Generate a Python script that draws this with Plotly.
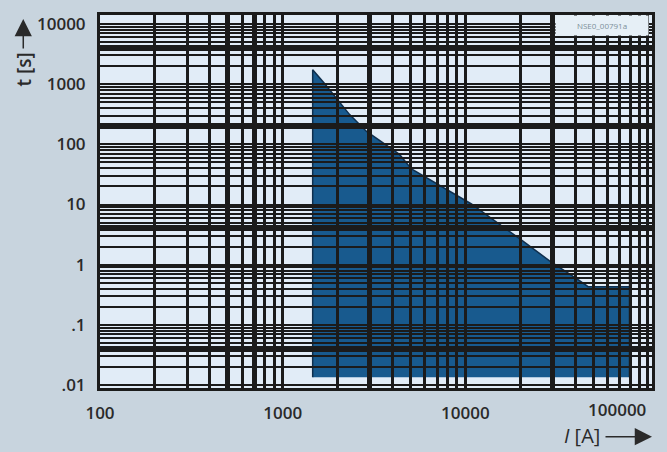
import math
import plotly.graph_objects as go

# ---- data (fuse time-current band) ----
current_A = [1460, 1460, 1700, 1880, 2320, 2880, 4360, 5070, 10800, 20500, 28800, 42000, 47000, 80000, 80000]
time_s = [0.0135, 1740, 1020, 690, 315, 164, 68, 39, 10.2, 2.5, 1.17, 0.55, 0.43, 0.43, 0.0135]

limit_I = [80000, 80000]
limit_t = [0.0135, 1.0]

x_decades = [100, 1000, 10000, 100000]
x_labels = ["100", "1000", "10000", "100000"]
y_decades = [0.01, 0.1, 1, 10, 100, 1000, 10000]
y_labels = [".01", ".1", "1", "10", "100", "1000", "10000"]

# grid lines that print heavier in the reference
heavy_x = [500, 700, 3000, 30000]
heavy_y = [4000, 200, 4, 0.04]

x_range = [2.0, 5.022]
y_range = [-2.05, 4.15]

# grid positions (1..9 per decade)
grid_x, text_x = [], []
for i, d in enumerate(x_decades[:-1]):
    for m in range(1, 10):
        grid_x.append(m * d)
        text_x.append(x_labels[i] if m == 1 else "")
grid_x.append(x_decades[-1]); text_x.append("")

grid_y, text_y = [], []
for i, d in enumerate(y_decades[:-1]):
    for m in range(1, 10):
        grid_y.append(round(m * d, 6))
        text_y.append(y_labels[i] if m == 1 else "")
grid_y.append(y_decades[-1]); text_y.append(y_labels[-1])

PAPER = "#c8d4de"
CELL = "#e1ecf7"
GRID = "#1b1b1b"
FILL = "#185a8e"
TXT = "#2a2a2a"
FONT = "Open Sans"

fig = go.Figure()

fig.add_trace(go.Scatter(
    x=current_A, y=time_s, mode="lines", fill="toself",
    fillcolor=FILL, line=dict(color="#0f2f4e", width=1.5),
    xaxis="x", yaxis="y", hoverinfo="skip", showlegend=False))

fig.add_trace(go.Scatter(
    x=limit_I, y=limit_t, mode="lines",
    line=dict(color=GRID, width=3),
    xaxis="x3", yaxis="y3", hoverinfo="skip", showlegend=False))

hidden = dict(type="log", showgrid=False, zeroline=False, showticklabels=False,
              showline=False, ticks="")
fig.update_layout(
    width=667, height=452,
    paper_bgcolor=PAPER, plot_bgcolor="rgba(0,0,0,0)",
    margin=dict(l=100, r=14, t=13, b=64),
    showlegend=False,
    xaxis=dict(hidden, range=x_range, domain=[0, 1], anchor="y"),
    yaxis=dict(hidden, range=y_range, domain=[0, 1], anchor="x"),
    xaxis2=dict(type="log", range=x_range, domain=[0, 1], anchor="y2",
                tickmode="array", tickvals=grid_x, ticktext=text_x,
                showgrid=True, gridcolor=GRID, gridwidth=2.8, zeroline=False,
                showline=True, mirror=True, linecolor=GRID, linewidth=3,
                ticks="", ticklabelstandoff=8,
                tickfont=dict(family=FONT, size=17, color=TXT, weight=600)),
    yaxis2=dict(type="log", range=y_range, domain=[0, 1], anchor="x2",
                tickmode="array", tickvals=grid_y, ticktext=text_y,
                showgrid=True, gridcolor=GRID, gridwidth=2.3, zeroline=False,
                showline=True, mirror=True, linecolor=GRID, linewidth=3,
                ticks="", ticklabelstandoff=8,
                tickfont=dict(family=FONT, size=17, color=TXT, weight=600)),
    xaxis3=dict(type="log", range=x_range, overlaying="x2", anchor="y3",
                tickmode="array", tickvals=heavy_x, showticklabels=False,
                showgrid=True, gridcolor=GRID, gridwidth=5, zeroline=False,
                showline=False, ticks=""),
    yaxis3=dict(type="log", range=y_range, overlaying="y2", anchor="x3",
                tickmode="array", tickvals=heavy_y, showticklabels=False,
                showgrid=True, gridcolor=GRID, gridwidth=5.5, zeroline=False,
                showline=False, ticks=""),
    shapes=[dict(type="rect", xref="paper", yref="paper", x0=0, x1=1, y0=0, y1=1,
                 fillcolor=CELL, line=dict(width=0), layer="below")],
)

ann = []
# last x tick label (right-aligned so it stays inside the page)
ann.append(dict(xref="x2", yref="paper", x=math.log10(x_decades[-1]), y=0,
                xanchor="right", yanchor="top", yshift=-8, showarrow=False,
                text=x_labels[-1],
                font=dict(family=FONT, size=17, color=TXT, weight=600)))
# y axis title with arrow
ann.append(dict(xref="paper", yref="paper", x=-0.138, y=(388 - 68) / 375,
                text="t [s]", textangle=-90, showarrow=False,
                xanchor="center", yanchor="middle",
                font=dict(family=FONT, size=19, color=TXT, weight=600)))
ann.append(dict(xref="paper", yref="paper", x=-0.139, y=(388 - 17) / 375,
                ax=0, ay=31, text="", showarrow=True, arrowhead=2,
                arrowsize=2.3, arrowwidth=1.5, arrowcolor=TXT))
# x axis title with arrow
ann.append(dict(xref="paper", yref="paper", x=(603 - 100) / 553, y=(388 - 436) / 375,
                text="<i>I</i> [A]", showarrow=False, xanchor="right", yanchor="middle",
                font=dict(family=FONT, size=20, color=TXT)))
ann.append(dict(xref="paper", yref="paper", x=1.0, y=(388 - 437) / 375,
                ax=-48, ay=0, text="", showarrow=True, arrowhead=2,
                arrowsize=2.3, arrowwidth=1.5, arrowcolor=TXT))
# figure id box
ann.append(dict(xref="paper", yref="paper", x=(650 - 100) / 553, y=1.0,
                xanchor="right", yanchor="top", showarrow=False,
                text="NSE0_00791a", width=90, height=17, bgcolor="#e6eff6",
                font=dict(family=FONT, size=8, color="#7c8f9a")))
fig.update_layout(annotations=ann)

fig.write_html("out.html", config={"displayModeBar": False},
               post_script="document.body.style.margin='0';")
